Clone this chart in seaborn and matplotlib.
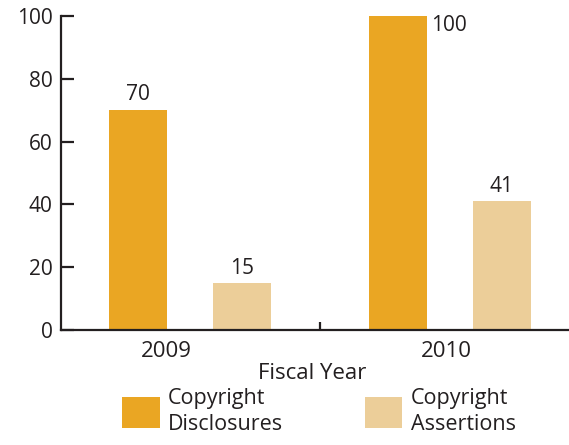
import matplotlib
matplotlib.use("Agg")
import matplotlib.pyplot as plt
from matplotlib.patches import Patch
import seaborn as sns
import pandas as pd

# Data
years = ["2009", "2010"]
series = ["Copyright Disclosures", "Copyright Assertions"]
disclosures = [70, 100]
assertions = [15, 41]
yticks = [0, 20, 40, 60, 80, 100]

colors = ["#EAA623", "#ECCE99"]
text_color = "#231F20"

df = pd.DataFrame({
    "year": years * 2,
    "series": [series[0]] * len(years) + [series[1]] * len(years),
    "value": disclosures + assertions,
})

sns.set_style("white")
plt.rcParams["font.family"] = ["Open Sans", "DejaVu Sans"]
plt.rcParams["text.color"] = text_color

fig = plt.figure(figsize=(5.69, 4.45), dpi=100)
ax = fig.add_axes([61 / 569, 1 - 330 / 445, (569 - 61) / 569, 314 / 445])

sns.barplot(data=df, x="year", y="value", hue="series", order=years,
            hue_order=series, palette=colors, width=0.8, gap=0.44,
            saturation=1, legend=False, linewidth=0, edgecolor="none", ax=ax)

ax.set_ylim(0, 100)
ax.set_xlim(-0.496, 1.458)
ax.set_yticks(yticks)
ax.set_yticklabels([str(v) for v in yticks])

# Year labels sit slightly left of each group; a single divider tick between groups
ax.set_xticks([-0.092, 0.988])
ax.set_xticklabels(years)
ax.set_xticks([0.5], minor=True)
ax.tick_params(axis="x", which="major", length=0, pad=8, labelsize=16,
               labelcolor=text_color)
ax.tick_params(axis="x", which="minor", direction="in", length=6, width=1.6,
               color=text_color, bottom=True)
ax.tick_params(axis="y", direction="in", length=9, width=1.6, color=text_color,
               pad=6, labelsize=15, labelcolor=text_color, left=True)

for side in ["top", "right"]:
    ax.spines[side].set_visible(False)
for side in ["left", "bottom"]:
    ax.spines[side].set_color(text_color)
    ax.spines[side].set_linewidth(1.6)

ax.set_ylabel("")
ax.set_xlabel("Fiscal Year", fontsize=16, color=text_color)
ax.xaxis.label.set_va("baseline")
ax.xaxis.set_label_coords(0.494, -0.156)

# Value labels
disc_cont, assert_cont = ax.containers[0], ax.containers[1]
ax.bar_label(assert_cont, labels=[str(v) for v in assertions], padding=3,
             fontsize=15, color=text_color)
ax.bar_label(disc_cont, labels=[str(disclosures[0]), ""], padding=4,
             fontsize=15, color=text_color)
top_bar = disc_cont.patches[1]
ax.annotate(str(disclosures[1]),
            xy=(top_bar.get_x() + top_bar.get_width(), disclosures[1]),
            xytext=(3, -7), textcoords="offset points",
            ha="left", va="center", fontsize=15, color=text_color)

# Legend below the axes
handles = [Patch(facecolor=c, edgecolor="none") for c in colors]
leg = fig.legend(handles, ["Copyright\nDisclosures", "Copyright\nAssertions"],
                 loc="upper left", bbox_to_anchor=(122 / 569, 1 - 388 / 445),
                 ncol=2, frameon=False, fontsize=15.5, handlelength=1.75,
                 handleheight=1.9, handletextpad=0.38, columnspacing=3.8,
                 borderpad=0, borderaxespad=0)
for t in leg.get_texts():
    t.set_linespacing(1.3)

fig.savefig("out.png", dpi=100)
